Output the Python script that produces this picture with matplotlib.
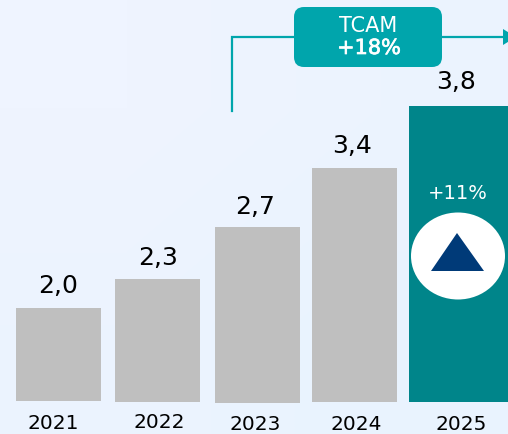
from matplotlib import pyplot as plt
from matplotlib.patches import Ellipse, FancyBboxPatch, Polygon
import matplotlib.patheffects as pe
import numpy as np

plt.rcParams['font.family'] = ['DejaVu Sans']

years = ['2021', '2022', '2023', '2024', '2025']
value_labels = ['2,0', '2,3', '2,7', '3,4', '3,8']
# the bars in the picture are not to scale with their labels, so heights are read off separately
bar_heights = [93, 123, 176, 234, 296]

bar_lefts = [16, 115, 215, 312, 409]
bar_widths = [85, 85, 85, 85, 99]
bar_bottoms = [402, 403, 404, 403, 403]
bar_colors = ['#bfbfbf', '#bfbfbf', '#bfbfbf', '#bfbfbf', '#00858a']
value_x = [58, 158, 255, 352, 456]
value_y = [286, 258, 207, 146, 82]
year_x = [53, 159, 255, 356, 461]
year_y = [424, 423, 425, 425, 425]

teal = '#00a5ac'

fig = plt.figure(figsize=[5.08, 4.35], dpi=100)
ax = fig.add_axes([0, 0, 1, 1])
ax.set_xlim(0, 508)
ax.set_ylim(435, 0)
ax.axis('off')

# soft background gradient
gradient = np.array([[0.0, 0.5], [0.5, 1.0]])
cmap = plt.matplotlib.colors.LinearSegmentedColormap.from_list('bg', ['#eff4ff', '#e9f3fe'])
ax.imshow(gradient, extent=[0, 508, 435, 0], cmap=cmap, aspect='auto', interpolation='bilinear', zorder=0)

for i, year in enumerate(years):
    ax.bar(bar_lefts[i], -bar_heights[i], width=bar_widths[i], bottom=bar_bottoms[i],
           align='edge', color=bar_colors[i], zorder=2)
    ax.text(value_x[i], value_y[i], value_labels[i], fontsize=18, color='black',
            ha='center', va='center', zorder=3)
    ax.text(year_x[i], year_y[i], year, fontsize=14.5, color='black',
            ha='center', va='center', zorder=3)

# CAGR bracket
ax.plot([232, 232, 503], [112, 38, 38], color=teal, lw=1.6, solid_joinstyle='miter', zorder=2)
ax.add_patch(Polygon([[503, 30], [503, 46], [516, 38]], closed=True, facecolor=teal, edgecolor='none', zorder=2))
ax.add_patch(FancyBboxPatch((304, 18), 128, 40, boxstyle='round,pad=10,rounding_size=10',
                            facecolor=teal, edgecolor='none', zorder=3))
ax.text(368, 26, 'TCAM', fontsize=15, color='white', ha='center', va='center', zorder=4)
ax.text(369, 49, '+18%', fontsize=15, color='white', ha='center', va='center', zorder=4,
        path_effects=[pe.withStroke(linewidth=0.5, foreground='white')])

# 2025 growth marker
ax.text(458, 194, '+11%', fontsize=14, color='white', ha='center', va='center', zorder=4)
ax.add_patch(Ellipse((458, 257), 94, 87, facecolor='white', edgecolor='none', zorder=3))
ax.add_patch(Polygon([[457, 234], [431, 272], [484, 272]], closed=True,
                     facecolor='#003a78', edgecolor='none', zorder=4))

fig.savefig('out.png', dpi=100)
